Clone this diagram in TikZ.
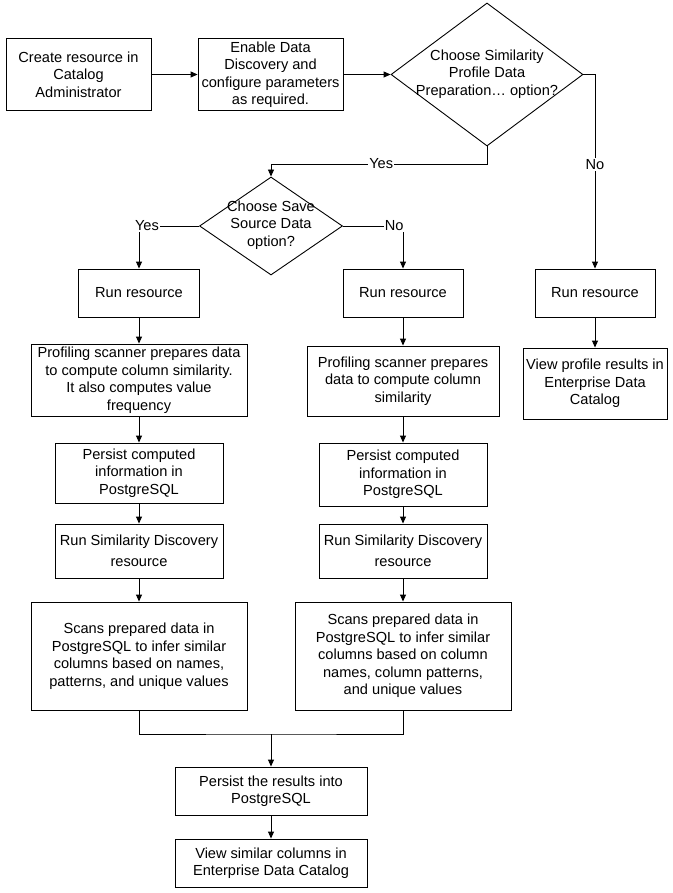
\documentclass[tikz,border=0pt]{standalone}
\usepackage{fontspec}
\setmainfont{Liberation Sans}
\usetikzlibrary{shapes.geometric,arrows.meta}
\begin{document}
\begin{tikzpicture}[x=1pt,y=-1pt,
  every node/.style={font=\fontsize{14.6}{17.5}\selectfont},
  box/.style={draw, line width=0.9pt, rectangle, inner sep=0pt, align=center},
  dia/.style={draw, line width=0.9pt, diamond, inner sep=0pt, aspect=1},
  txt/.style={align=center, inner sep=0pt},
  lab/.style={fill=white, inner sep=1pt},
  arr/.style={line width=0.9pt, -{Triangle[length=7pt,width=6pt]}},
  ln/.style={line width=0.9pt}]
\useasboundingbox[fill=white] (0,0) rectangle (672,893);
% top row
\node[box, minimum width=145, minimum height=72] (b1) at (78.5,74.5) {Create resource in\\Catalog\\Administrator};
\node[box, minimum width=145, minimum height=72] (b2) at (270.5,74.5) {Enable Data\\Discovery and\\configure parameters\\as required.};
\node[dia, minimum width=192, minimum height=143] (d1) at (487,74.5) {};
\node[txt] (d1t) at (487,74) {Choose Similarity\\Profile Data\\Preparation… option?};
% second decision
\node[dia, minimum width=143, minimum height=98] (d2) at (271,226) {};
\node[txt] (d2t) at (271,225) {Choose Save\\Source Data\\option?};
% run resource boxes
\node[box, minimum width=121, minimum height=48] (r1) at (139,293) {Run resource};
\node[box, minimum width=120, minimum height=48] (r2) at (403,293) {Run resource};
\node[box, minimum width=120, minimum height=48] (r3) at (595,293) {Run resource};
% profiling
\node[box, minimum width=216, minimum height=72] (p1) at (139,380) {Profiling scanner prepares data\\to compute column similarity.\\It also computes value\\frequency};
\node[box, minimum width=192, minimum height=70] (p2) at (403,381) {Profiling scanner prepares\\data to compute column\\similarity};
\node[box, minimum width=144, minimum height=71] (v3) at (595,383.5) {View profile results in\\Enterprise Data\\Catalog};
% persist
\node[box, minimum width=168, minimum height=60] (s1) at (139,473) {Persist computed\\information in\\PostgreSQL};
\node[box, minimum width=168, minimum height=63] (s2) at (403,474.5) {Persist computed\\information in\\PostgreSQL};
% run similarity
\node[box, minimum width=168, minimum height=54] (q1) at (139,551) {Run Similarity Discovery\\[4pt]resource};
\node[box, minimum width=168, minimum height=54] (q2) at (403,551) {Run Similarity Discovery\\[3pt]resource};
% scans
\node[box, minimum width=216, minimum height=108] (c1) at (139,656) {Scans prepared data in\\PostgreSQL to infer similar\\columns based on names,\\patterns, and unique values};
\node[box, minimum width=216, minimum height=108] (c2) at (403,656) {Scans prepared data in\\PostgreSQL to infer similar\\columns based on column\\names, column patterns,\\and unique values};
% final
\node[box, minimum width=192, minimum height=48] (f1) at (271,791) {Persist the results into\\PostgreSQL};
\node[box, minimum width=192, minimum height=48] (f2) at (271,863) {View similar columns in\\Enterprise Data Catalog};
% coordinates
\coordinate (cy) at (271,164);
\coordinate (mj) at (271,734);
% connectors
\draw[arr] (b1) -- (b2);
\draw[arr] (b2.east) -- (d1.west);
\draw[arr] (d1.south) |- (cy) node[lab, pos=0.745] {Yes} -- (d2.north);
\draw[arr] (d1.east) -| (r3.north) node[lab, pos=0.732] {No};
\draw[arr] (d2.west) -| (r1.north) node[lab, pos=0.434] {Yes};
\draw[arr] (d2.east) -| (r2.north) node[lab, pos=0.426] {No};
\draw[arr] (r1) -- (p1);
\draw[arr] (r2) -- (p2);
\draw[arr] (r3) -- (v3);
\draw[arr] (p1) -- (s1);
\draw[arr] (p2) -- (s2);
\draw[arr] (s1) -- (q1);
\draw[arr] (s2) -- (q2);
\draw[arr] (q1) -- (c1);
\draw[arr] (q2) -- (c2);
\draw[ln] (c1.south) |- (mj) -| (c2.south);
\draw[arr] (mj) -- (f1.north);
\draw[arr] (f1) -- (f2);
\end{tikzpicture}
\end{document}
